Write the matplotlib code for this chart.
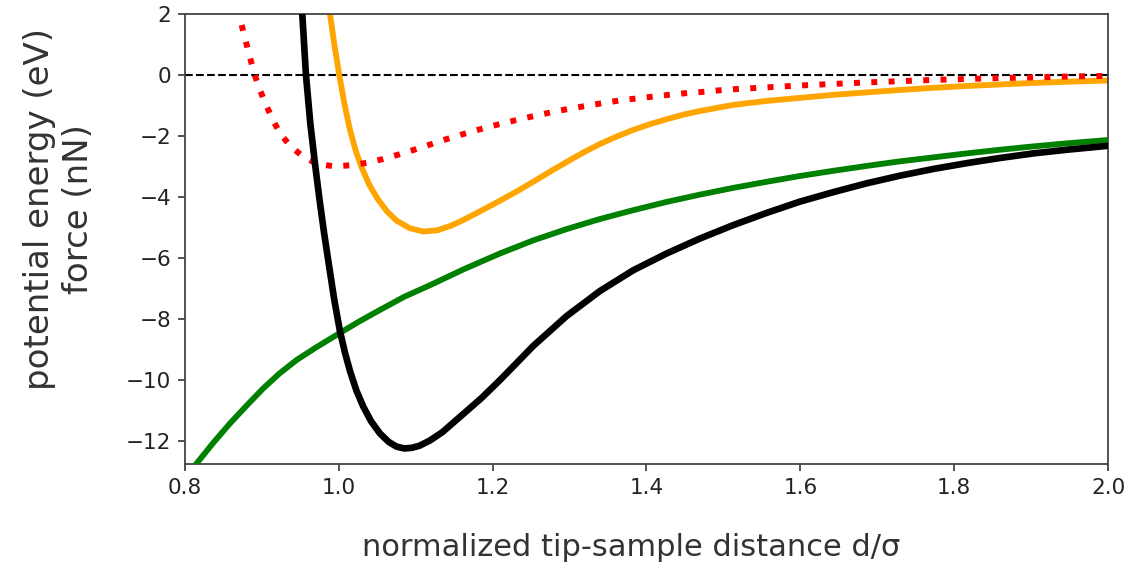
import numpy as np
import matplotlib
matplotlib.use('Agg')
import matplotlib.pyplot as plt

# values (d/sigma, value)
black_d = [0.945, 0.9525, 0.9573, 0.963, 0.969, 0.975, 0.981, 0.987, 0.994, 1.0015,
           1.008, 1.0145, 1.023, 1.0318, 1.042, 1.0535, 1.065, 1.075, 1.085, 1.095,
           1.105, 1.1185, 1.135, 1.16, 1.185, 1.2095, 1.2528, 1.2962, 1.3395, 1.3828,
           1.4262, 1.4695, 1.5128, 1.5562, 1.5995, 1.6428, 1.6862, 1.7295, 1.7728, 1.8162,
           1.8595, 1.9028, 1.9462, 2.0]
black_v = [5.5, 2.0, 0.0, -1.6, -2.9, -4.1, -5.2, -6.2, -7.35, -8.4,
           -9.1, -9.7, -10.35, -10.87, -11.35, -11.75, -12.03, -12.18, -12.24, -12.22,
           -12.15, -11.98, -11.70, -11.15, -10.6, -10.0, -8.88, -7.90, -7.08, -6.40,
           -5.85, -5.36, -4.92, -4.52, -4.15, -3.84, -3.55, -3.30, -3.08, -2.89,
           -2.72, -2.57, -2.45, -2.32]

green_d = [0.80, 0.8152, 0.837, 0.8585, 0.880, 0.9018, 0.923, 0.9452, 0.971, 0.9972,
           1.025, 1.0535, 1.085, 1.1185, 1.163, 1.2095, 1.2528, 1.2962, 1.3395, 1.3828,
           1.4262, 1.4695, 1.5128, 1.5562, 1.5995, 1.6428, 1.6862, 1.7295, 1.7728, 1.8162,
           1.8595, 1.9028, 1.9462, 2.0]
green_v = [-13.28, -12.73, -12.05, -11.42, -10.84, -10.27, -9.78, -9.34, -8.92, -8.52,
           -8.10, -7.70, -7.27, -6.89, -6.36, -5.85, -5.42, -5.05, -4.72, -4.43,
           -4.16, -3.92, -3.70, -3.50, -3.31, -3.14, -2.98, -2.83, -2.70, -2.57,
           -2.45, -2.34, -2.24, -2.13]

orange_d = [0.982, 0.9885, 0.9945, 1.0006, 1.007, 1.0145, 1.022, 1.0297, 1.040, 1.051,
            1.063, 1.075, 1.092, 1.110, 1.128, 1.145, 1.162, 1.185, 1.2095, 1.231,
            1.2528, 1.2745, 1.2962, 1.318, 1.3395, 1.361, 1.3828, 1.4045, 1.4262, 1.4478,
            1.4695, 1.5128, 1.5562, 1.5995, 1.6428, 1.6862, 1.7295, 1.7728, 1.8162, 1.8595,
            1.9028, 1.9462, 2.0]
orange_v = [3.3, 2.0, 0.95, 0.0, -0.9, -1.8, -2.48, -3.03, -3.62, -4.08,
            -4.48, -4.77, -5.02, -5.13, -5.09, -4.95, -4.75, -4.45, -4.12, -3.82,
            -3.50, -3.17, -2.85, -2.54, -2.26, -2.02, -1.80, -1.61, -1.45, -1.30,
            -1.18, -0.98, -0.85, -0.75, -0.65, -0.57, -0.49, -0.42, -0.36, -0.31,
            -0.26, -0.22, -0.18]

red_d = [0.8737, 0.8789, 0.8845, 0.8897, 0.8966, 0.9050, 0.9135, 0.9235, 0.9370, 0.9538,
         0.9725, 0.9937, 1.0154, 1.0360, 1.0565, 1.0773, 1.0980, 1.1185, 1.1390, 1.1597,
         1.1805, 1.2008, 1.2203, 1.2420, 1.2637, 1.2840, 1.3057, 1.3265, 1.3482, 1.3690,
         1.3902, 1.4110, 1.4327, 1.4535, 1.4747, 1.4955, 1.5172, 1.5388, 1.5596, 1.5813,
         1.6030, 1.6450, 1.6883, 1.7317, 1.7728, 1.8160, 1.8595, 1.9030, 1.9460, 2.0]
red_v = [1.64, 1.12, 0.58, 0.08, -0.44, -0.95, -1.44, -1.91, -2.33, -2.68,
         -2.92, -2.99, -2.96, -2.88, -2.76, -2.61, -2.45, -2.28, -2.11, -1.95,
         -1.80, -1.66, -1.54, -1.41, -1.29, -1.18, -1.08, -0.99, -0.90, -0.82,
         -0.76, -0.70, -0.64, -0.59, -0.55, -0.50, -0.46, -0.43, -0.40, -0.37,
         -0.34, -0.29, -0.24, -0.20, -0.16, -0.13, -0.10, -0.08, -0.05, -0.03]

x_ticks = [0.8, 1.0, 1.2, 1.4, 1.6, 1.8, 2.0]
y_ticks = [2, 0, -2, -4, -6, -8, -10, -12]

fig = plt.figure(figsize=(11.32, 5.71), dpi=100)
ax = fig.add_axes([0.1634, 0.1874, 0.8154, 0.7881])

ax.axhline(0, color='k', lw=1.5, ls='--', zorder=1)
ax.plot(orange_d, orange_v, color='orange', lw=4.2, zorder=2)
ax.plot(red_d, red_v, color='red', lw=4.3, ls=(0, (1, 1.9)), zorder=3)
ax.plot(green_d, green_v, color='green', lw=4.2, zorder=4)
ax.plot(black_d, black_v, color='black', lw=4.8, zorder=5)

ax.set_xlim(0.8, 2.0)
ax.set_ylim(-12.75, 2)
ax.set_xticks(x_ticks)
ax.set_xticklabels(['%.1f' % t for t in x_ticks])
ax.set_yticks(y_ticks)

for s in ax.spines.values():
    s.set_color('#444444')
    s.set_linewidth(1.3)
ax.tick_params(labelsize=15.5, length=5, width=1.3, color='#444444', labelcolor='#222222', pad=5)

ax.set_xlabel('normalized tip-sample distance d/\u03c3', family='DejaVu Sans', size=22, color='#333333')
ax.xaxis.set_label_coords(0.483, -0.153)
ax.set_ylabel('potential energy (eV)\nforce (nN)', multialignment='center',
              family='DejaVu Sans', size=24.5, color='#333333')
ax.yaxis.set_label_coords(-0.098, 0.567)

fig.savefig('out.png', dpi=100)
